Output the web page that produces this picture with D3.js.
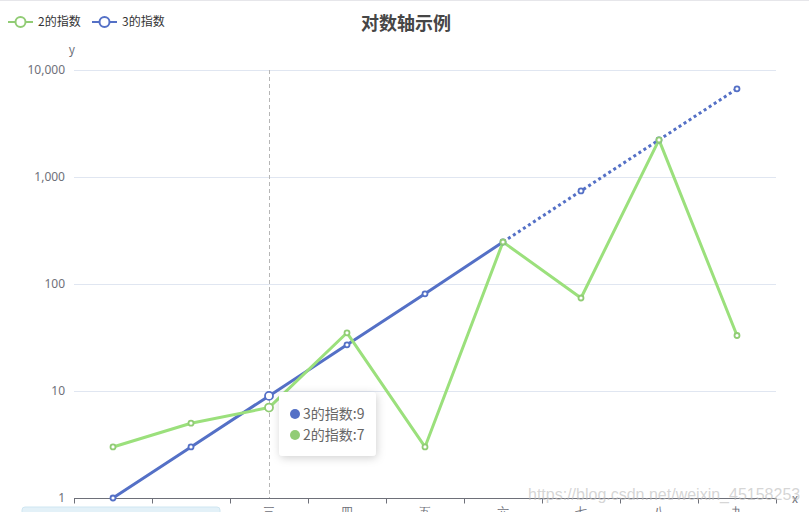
<!DOCTYPE html>
<html>
<head>
<meta charset="utf-8">
<script src="https://cdn.jsdelivr.net/npm/d3@7"></script>
<style>
  html, body { margin: 0; padding: 0; background: #fff; }
  svg { display: block; font-family: "Noto Sans CJK SC", "Noto Sans", sans-serif; }
</style>
</head>
<body>
<svg id="chart" width="809" height="512"></svg>
<script>
const categories = ["一", "二", "三", "四", "五", "六", "七", "八", "九"];
const series2 = [3, 5, 7, 35, 3, 247, 74, 2223, 33];
const series3 = [1, 3, 9, 27, 81, 247, 741, 2223, 6669];
const yTicks = [1, 10, 100, 1000, 10000];
const seriesNames = ["2的指数", "3的指数"];
const titleText = "对数轴示例";
const hoverIndex = 2;
const dottedFrom = 5;

(function () {
const W = 809, H = 512;
const pLeft = 74, pRight = 776, pTop = 70, pBottom = 498;
const colors = { s2: "#91cc75", s3: "#5470c6" };

const svg = d3.select("#chart");

const defs = svg.append("defs");
const f = defs.append("filter").attr("id", "shadow").attr("x", "-30%").attr("y", "-30%").attr("width", "160%").attr("height", "160%");
f.append("feDropShadow").attr("dx", 1).attr("dy", 2).attr("stdDeviation", 4).attr("flood-color", "#000").attr("flood-opacity", 0.18);

const x = d3.scaleBand().domain(categories).range([pLeft, pRight]).padding(0);
const y = d3.scaleLog().domain([1, 10000]).range([pBottom, pTop]);
const cx = d => x(d) + x.bandwidth() / 2;

svg.append("line").attr("x1", 0).attr("x2", W).attr("y1", 0.5).attr("y2", 0.5).attr("stroke", "#e6e6ea");

svg.append("text").attr("x", 406).attr("y", 30).attr("text-anchor", "middle")
  .attr("font-size", 18).attr("font-weight", "bold").attr("fill", "#464646").text(titleText);

const legend = [{ name: seriesNames[0], color: colors.s2, x: 8 }, { name: seriesNames[1], color: colors.s3, x: 92 }];
legend.forEach(l => {
  const g = svg.append("g").attr("transform", `translate(${l.x},22)`);
  g.append("line").attr("x1", 0).attr("x2", 25).attr("stroke", l.color).attr("stroke-width", 2);
  g.append("circle").attr("cx", 12.5).attr("r", 5).attr("fill", "#fff").attr("stroke", l.color).attr("stroke-width", 2);
  g.append("text").attr("x", 30).attr("y", 4).attr("font-size", 12).attr("fill", "#333").text(l.name);
});

svg.append("g").selectAll("line").data(yTicks.slice(1)).join("line")
  .attr("x1", pLeft).attr("x2", pRight)
  .attr("y1", d => Math.round(y(d)) + 0.5).attr("y2", d => Math.round(y(d)) + 0.5)
  .attr("stroke", "#e0e6f1");

const yAxis = d3.axisLeft(y).tickValues(yTicks).tickFormat(d3.format(",")).tickSize(0).tickPadding(9);
const yg = svg.append("g").attr("transform", `translate(${pLeft},0)`).call(yAxis);
yg.select(".domain").remove();
yg.selectAll("text").attr("font-size", 12).attr("fill", "#6e7079").attr("font-family", "\"Noto Sans\", sans-serif");

svg.append("text").attr("x", 72).attr("y", 54).attr("text-anchor", "middle").attr("font-size", 12).attr("fill", "#6e7079").text("y");
svg.append("text").attr("x", 792).attr("y", 503).attr("font-size", 12).attr("fill", "#6e7079").text("x");

svg.append("line").attr("x1", cx(categories[hoverIndex]) + 0.5).attr("x2", cx(categories[hoverIndex]) + 0.5)
  .attr("y1", pTop).attr("y2", pBottom).attr("stroke", "#b6b6b6").attr("stroke-dasharray", "4,3");

const xAxis = d3.axisBottom(x).tickSizeOuter(5).tickSizeInner(5).tickPadding(4);
const xg = svg.append("g").attr("transform", `translate(0,${pBottom + 0.5})`).call(xAxis);
xg.select(".domain").attr("stroke", "#6e7079").attr("d", `M${pLeft},0H${pRight}`);
xg.selectAll(".tick line").remove();
xg.selectAll(".tick text").attr("font-size", 12).attr("fill", "#6e7079");
const bounds = categories.map(c => x(c)).concat([pRight]);
xg.selectAll(".btick").data(bounds).join("line").attr("class", "btick")
  .attr("x1", d => d + 0.5).attr("x2", d => d + 0.5).attr("y1", 0).attr("y2", 5).attr("stroke", "#6e7079");

svg.append("text").attr("x", 528).attr("y", 500).attr("font-size", 16)
  .attr("fill", "rgba(190,190,190,0.65)").attr("font-family", "Arial, \"Liberation Sans\", sans-serif")
  .text("https://blog.csdn.net/weixin_45158253");

const line = d3.line().x(d => d[0]).y(d => y(d[1]));
const pts2 = series2.map((v, i) => [cx(categories[i]), v]);
const pts3 = series3.map((v, i) => [cx(categories[i]), v]);

svg.append("path").attr("d", line(pts3.slice(0, dottedFrom + 1))).attr("fill", "none")
  .attr("stroke", colors.s3).attr("stroke-width", 3).attr("stroke-linejoin", "round");
svg.append("path").attr("d", line(pts3.slice(dottedFrom))).attr("fill", "none")
  .attr("stroke", colors.s3).attr("stroke-width", 3).attr("stroke-dasharray", "3,3");
svg.append("path").attr("d", line(pts2)).attr("fill", "none")
  .attr("stroke", "#9be07c").attr("stroke-width", 3).attr("stroke-linejoin", "round");

function symbols(pts, color) {
  svg.append("g").selectAll("circle").data(pts).join("circle")
    .attr("cx", d => d[0]).attr("cy", d => y(d[1]))
    .attr("r", (d, i) => i === hoverIndex ? 4 : 2.5)
    .attr("fill", "#fff").attr("stroke", color).attr("stroke-width", 1.8);
}
symbols(pts3, colors.s3);
symbols(pts2, colors.s2);

const tip = svg.append("g").attr("transform", "translate(279,392)");
tip.append("rect").attr("width", 97).attr("height", 64).attr("rx", 4).attr("fill", "#fff").attr("filter", "url(#shadow)");
const tipRows = [{ name: seriesNames[1], v: series3[hoverIndex], c: colors.s3 }, { name: seriesNames[0], v: series2[hoverIndex], c: colors.s2 }];
tipRows.forEach((r, i) => {
  tip.append("circle").attr("cx", 16).attr("cy", 22 + i * 21).attr("r", 5).attr("fill", r.c);
  tip.append("text").attr("x", 24).attr("y", 27 + i * 21).attr("font-size", 14).attr("fill", "#666").text(r.name + ":" + r.v);
});

svg.append("rect").attr("x", 22).attr("y", 507).attr("width", 198).attr("height", 12).attr("rx", 3)
  .attr("fill", "#e3f1f8").attr("stroke", "#cfe6f1");
})();
</script>
</body>
</html>
